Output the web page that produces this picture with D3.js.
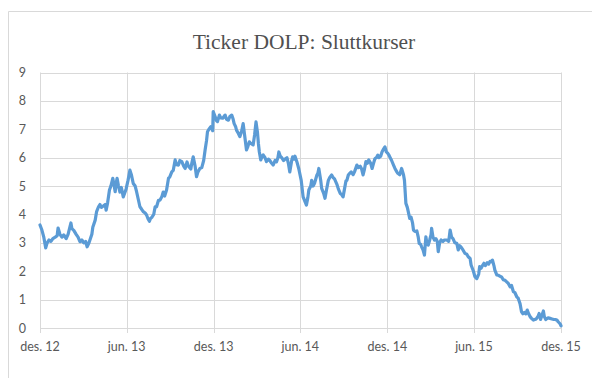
<!DOCTYPE html>
<html>
<head>
<meta charset="utf-8">
<script src="https://cdn.jsdelivr.net/npm/d3@7"></script>
<style>
  html, body { margin: 0; padding: 0; background: #ffffff; }
  svg { display: block; }
</style>
</head>
<body>
<svg id="chart" width="592" height="378"></svg>
<script>
// ---- DATA ----
const title = "Ticker DOLP: Sluttkurser";
const startDate = "2012-12-01";
// trading day offsets (days since startDate)
const dayOffsets = [
  0,4,8,12,15,19,23,27,32,36,38,42,46,50,55,59,65,67,71,76,80,84,88,92,96,99,103,109,111,116,119,123,126,129,133,137,139,142,146,149,153,156,158,160,162,165,168,171,175,179,181,185,189,
  192,196,200,203,207,210,213,217,221,224,227,230,232,235,239,242,245,249,252,256,259,262,266,270,273,277,280,284,287,291,294,298,302,305,309,312,317,319,322,326,329,332,336,340,344,347,350,352,355,359,363,364,
  368,371,373,377,380,384,389,392,396,399,403,406,408,411,413,417,420,424,427,430,434,437,440,443,448,451,454,457,459,461,464,467,469,473,476,480,483,487,490,494,497,500,502,505,508,512,515,519,522,525,529,531,534,536,540,544,549,553,557,560,
  563,565,569,571,574,577,582,584,586,590,592,596,599,602,606,609,613,616,619,624,627,631,634,637,640,643,645,648,651,654,658,661,666,669,673,676,679,682,685,688,691,695,698,701,704,707,710,712,716,719,722,725,728,731,733,736,
  739,743,746,750,752,756,760,764,766,769,772,774,777,780,783,785,788,792,795,797,800,802,805,808,811,813,816,819,822,823,826,829,832,835,837,840,843,847,850,855,859,862,865,868,872,876,879,882,885,889,893,897,900,904,906,911,914,918,
  922,924,927,930,933,936,940,943,946,949,951,954,956,960,963,967,970,974,977,981,984,988,991,995,998,1002,1005,1007,1009,1012,1015,1018,1021,1024,1027,1030,1033,1037,1040,1043,1047,1049,1052,1055,1058,1060,1063,1068,1072,1076,1080,1083,1087,1089,1093,1095
];
const closePrices = [
  3.63,3.45,3.2,2.82,3.0,3.1,3.05,3.15,3.2,3.25,3.52,3.3,3.2,3.28,3.15,3.3,3.7,3.5,3.44,3.3,3.2,3.04,3.1,3.0,3.05,2.86,3.0,3.3,3.55,3.8,4.1,4.27,4.35,4.25,4.3,4.35,4.15,4.4,4.86,5.0,5.27,5.0,4.8,5.1,5.27,5.0,4.79,4.95,4.62,4.8,4.9,5.2,5.56,
  5.4,5.09,5.0,4.8,4.5,4.27,4.2,4.1,4.05,3.98,3.85,3.76,3.85,3.9,4.0,4.27,4.27,4.5,4.5,4.62,4.79,4.65,4.86,5.27,5.33,5.5,5.55,5.92,5.75,5.74,5.9,5.86,5.7,5.62,5.85,5.7,5.6,5.8,6.03,5.7,5.33,5.5,5.62,5.65,5.9,6.27,6.6,6.91,7.0,7.09,6.95,7.62,
  7.45,7.3,7.27,7.5,7.4,7.39,7.5,7.35,7.32,7.45,7.5,7.35,7.2,7.1,6.97,6.85,6.74,6.95,7.2,6.8,6.27,6.4,6.56,6.5,6.45,6.8,7.26,6.9,6.5,6.2,5.92,6.05,6.1,6.0,5.86,5.95,5.9,5.8,5.74,5.9,5.85,6.0,6.2,6.05,6.0,5.9,5.95,6.0,5.8,5.5,5.9,6.03,5.95,6.05,5.85,5.6,5.2,4.62,4.45,4.33,
  4.6,4.86,5.0,5.2,5.0,5.1,5.39,5.45,5.62,5.2,4.92,4.75,4.57,4.85,5.2,5.3,5.39,5.3,5.25,5.06,4.9,4.74,4.7,4.62,4.9,5.18,5.2,5.39,5.45,5.5,5.4,5.5,5.74,5.65,5.7,5.6,5.39,5.6,5.86,5.8,5.92,5.8,5.62,5.8,5.97,6.0,6.09,6.0,6.05,6.21,6.3,6.38,6.2,6.15,6.1,6.0,
  5.9,5.74,5.62,5.5,5.45,5.4,5.62,5.4,5.2,4.39,4.25,4.1,3.86,3.9,3.7,3.45,3.4,3.42,3.2,2.98,2.95,2.86,2.75,2.57,3.21,3.0,2.92,3.1,3.3,3.51,3.2,3.1,3.15,3.05,2.69,3.0,3.1,3.05,3.1,3.1,3.05,3.45,3.2,3.15,3.0,2.98,2.75,2.9,2.85,2.75,2.63,2.6,2.51,2.45,2.22,2.0,1.81,1.74,
  1.9,2.16,2.1,2.2,2.28,2.2,2.3,2.25,2.35,2.33,2.39,2.2,2.04,1.87,1.86,1.82,1.8,1.69,1.69,1.62,1.58,1.45,1.5,1.28,1.25,1.1,1.05,0.95,0.85,0.57,0.5,0.55,0.5,0.63,0.5,0.4,0.34,0.28,0.3,0.32,0.42,0.51,0.3,0.45,0.6,0.4,0.3,0.36,0.34,0.32,0.3,0.3,0.27,0.22,0.15,0.08
];
const tickDates = ["2012-12-01","2013-06-01","2013-12-01","2014-06-01","2014-12-01","2015-06-01","2015-12-01"];
const tickLabels = ["des. 12","jun. 13","des. 13","jun. 14","des. 14","jun. 15","des. 15"];
const yTicks = [0,1,2,3,4,5,6,7,8,9];

// ---- CHART ----
const parse = d3.timeParse("%Y-%m-%d");
const start = parse(startDate);
const series = dayOffsets.map((d, i) => ({ date: d3.timeDay.offset(start, d), value: closePrices[i] }));
const tDates = tickDates.map(parse);

const svg = d3.select("#chart");
const plot = { left: 40, right: 561, top: 72.5, bottom: 328 };

// outer frame (continues beyond the picture on right/bottom)
svg.append("path")
  .attr("d", "M8.5,400 L8.5,11.5 L600,11.5")
  .attr("fill", "none").attr("stroke", "#d9d9d9").attr("stroke-width", 1);

const x = d3.scaleTime().domain([tDates[0], tDates[tDates.length - 1]]).range([plot.left, plot.right]);
const y = d3.scaleLinear().domain([0, 9]).range([plot.bottom, plot.top]);

// horizontal gridlines
svg.append("g").selectAll("line").data(yTicks.slice(1)).join("line")
  .attr("x1", plot.left).attr("x2", plot.right)
  .attr("y1", d => Math.round(y(d)) + 0.5).attr("y2", d => Math.round(y(d)) + 0.5)
  .attr("stroke", "#d9d9d9").attr("stroke-width", 1);

// vertical gridlines
svg.append("g").selectAll("line").data(tDates).join("line")
  .attr("x1", d => Math.round(x(d)) + 0.5).attr("x2", d => Math.round(x(d)) + 0.5)
  .attr("y1", plot.top).attr("y2", plot.bottom + 5)
  .attr("stroke", "#d9d9d9").attr("stroke-width", 1);

// x axis line
svg.append("line")
  .attr("x1", plot.left).attr("x2", plot.right)
  .attr("y1", Math.round(y(0)) + 0.5).attr("y2", Math.round(y(0)) + 0.5)
  .attr("stroke", "#d9d9d9").attr("stroke-width", 1);

// y labels
svg.append("g").selectAll("text").data(yTicks).join("text")
  .attr("x", 26).attr("y", d => y(d) + 4.5)
  .attr("text-anchor", "end")
  .attr("font-family", "Lato, 'Open Sans', sans-serif")
  .attr("font-size", 12.5).attr("fill", "#595959")
  .text(d => d);

// x labels
svg.append("g").selectAll("text").data(tDates).join("text")
  .attr("x", d => x(d)).attr("y", 351)
  .attr("text-anchor", "middle")
  .attr("font-family", "Lato, 'Open Sans', sans-serif")
  .attr("font-size", 12.5).attr("fill", "#595959")
  .text((d, i) => tickLabels[i]);

// title
svg.append("text")
  .attr("x", 304).attr("y", 49)
  .attr("text-anchor", "middle")
  .attr("font-family", "'Liberation Serif', 'Times New Roman', serif")
  .attr("font-size", 21.5).attr("fill", "#505050")
  .text(title);

// line
const line = d3.line().x(d => x(d.date)).y(d => y(d.value));
svg.append("path").datum(series)
  .attr("d", line)
  .attr("fill", "none")
  .attr("stroke", "#5b9bd5")
  .attr("stroke-width", 3.2)
  .attr("stroke-linejoin", "round")
  .attr("stroke-linecap", "round");
</script>
</body>
</html>
